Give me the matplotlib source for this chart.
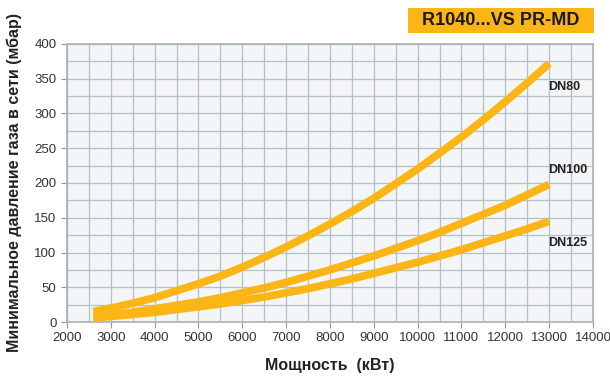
import numpy as np
import matplotlib
matplotlib.use("Agg")
import matplotlib.pyplot as plt
from matplotlib.ticker import MultipleLocator
from matplotlib.patches import Rectangle

plt.rcParams['font.family'] = ['Liberation Sans', 'DejaVu Sans']

# data
power = [2600, 3000, 3500, 4000, 4500, 5000, 5500, 6000, 6500, 7000, 7500, 8000,
         8500, 9000, 9500, 10000, 10500, 11000, 11500, 12000, 12500, 13000]
dn80 = [15, 20, 27, 35, 45, 55, 66, 79, 93, 108, 124, 141,
        159, 178, 199, 220, 243, 266, 291, 317, 344, 372]
dn100 = [8, 10, 14, 19, 24, 29, 35, 42, 49, 57, 66, 75,
         85, 95, 106, 117, 129, 142, 155, 168, 183, 198]
dn125 = [6, 8, 11, 14, 18, 22, 26, 31, 36, 42, 48, 55,
         62, 70, 78, 86, 95, 104, 114, 124, 134, 145]
labels = ["DN80", "DN100", "DN125"]
label_pos = [(12970, 338), (12970, 219), (12970, 114)]

orange = "#fbb515"

fig = plt.figure(figsize=(6.10, 3.76), dpi=100)
ax = fig.add_axes([0.1098, 0.1436, 0.8623, 0.7394])
ax.set_facecolor("#f3f5f7")

for ys in (dn80, dn100, dn125):
    ax.plot(power, ys, color=orange, lw=5.6, solid_capstyle="butt", solid_joinstyle="round", zorder=3)

for lab, (x, y) in zip(labels, label_pos):
    ax.text(x, y, lab, fontsize=9, fontweight="bold", color="#222222", va="center", ha="left", zorder=4)

ax.set_xlim(2000, 14000)
ax.set_ylim(0, 400)
ax.xaxis.set_major_locator(MultipleLocator(1000))
ax.xaxis.set_minor_locator(MultipleLocator(500))
ax.yaxis.set_major_locator(MultipleLocator(50))
ax.yaxis.set_minor_locator(MultipleLocator(25))
ax.grid(which="both", color="#b4c0c7", lw=0.9, zorder=1)
ax.set_axisbelow(True)
ax.tick_params(which="major", direction="out", length=4, color="#8c979e", labelsize=9.5, labelcolor="#333333")
ax.tick_params(which="minor", length=0)
for s in ax.spines.values():
    s.set_color("#a6b1b8")
    s.set_linewidth(1.2)

ax.set_xlabel("Мощность  (кВт)", fontsize=11.5, fontweight="bold", color="#222222", labelpad=10)
ax.set_ylabel("Минимальное давление газа в сети (мбар)", fontsize=11.5, fontweight="bold", color="#222222", labelpad=9)

# title badge
fig.patches.append(Rectangle((408 / 610, 1 - 33 / 376), 186 / 610, 25 / 376,
                             transform=fig.transFigure, facecolor=orange, edgecolor="none"))
fig.text(501 / 610, 1 - 20.5 / 376, "R1040...VS PR-MD", fontsize=13, fontweight="bold", color="#1a1a1a",
         ha="center", va="center")

fig.savefig("out.png", dpi=100)
